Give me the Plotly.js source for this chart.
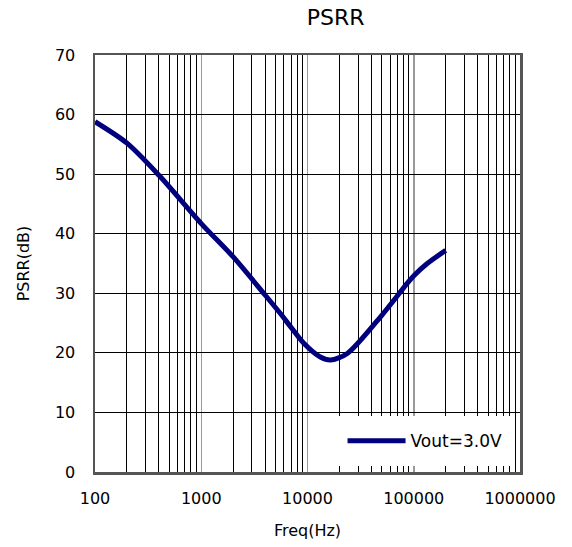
<!DOCTYPE html>
<html><head><meta charset="utf-8">
<script src="https://cdn.plot.ly/plotly-3.0.1.min.js"></script>
<style>html,body{margin:0;padding:0;background:#fff}#chart{width:572px;height:547px}</style>
</head><body><div id="chart"></div>
<script>
const freqHz = [100, 200, 400, 1000, 2000, 3870, 5560, 6920, 9230, 13200, 16500, 23700, 48900, 87100, 100700, 134000, 200000];
const psrrDb = [58.8, 55.2, 49.8, 41.7, 36.1, 30.0, 26.6, 24.4, 21.6, 19.3, 18.8, 19.9, 26.1, 31.7, 33.0, 35.0, 37.2];
const seriesName = 'Vout=3.0V';
const xTickVals = [100, 1000, 10000, 100000, 1000000];
const xTickText = ['100', '1000', '10000', '100000', '1000000'];
const yTickVals = [0, 10, 20, 30, 40, 50, 60, 70];

const font = "'DejaVu Sans', sans-serif";
Plotly.newPlot('chart', [{
  x: freqHz, y: psrrDb, name: seriesName, type: 'scatter', mode: 'lines',
  line: {color: '#00007f', width: 5, shape: 'spline', smoothing: 0.8}
}], {
  width: 572, height: 547,
  margin: {l: 95, r: 52, t: 55, b: 75},
  paper_bgcolor: '#fff', plot_bgcolor: '#fff',
  title: {text: 'PSRR', x: 0.587, xanchor: 'center', y: 0.968, yanchor: 'middle', font: {family: font, size: 22, color: '#000'}},
  showlegend: true,
  legend: {x: 0.566, xanchor: 'left', y: 0.074, yanchor: 'middle', bgcolor: '#fff', bordercolor: '#fff', borderwidth: 7,
    itemwidth: 58, font: {family: font, size: 17, color: '#000'}},
  xaxis: {
    type: 'log', range: [2, 6], tickmode: 'array', tickvals: xTickVals, ticktext: xTickText,
    showgrid: true, gridcolor: '#999', gridwidth: 1.5,
    minor: {dtick: 'D1', showgrid: true, gridcolor: '#000', gridwidth: 1, ticklen: 0},
    showline: true, linecolor: '#555', linewidth: 2.5, mirror: true, ticks: '', zeroline: false,
    ticklabelstandoff: 10,
    tickfont: {family: font, size: 16, color: '#000'},
    title: {text: 'Freq(Hz)', font: {family: font, size: 16, color: '#000'}, standoff: 18}
  },
  yaxis: {
    range: [0, 70], tickmode: 'array', tickvals: yTickVals,
    showgrid: true, gridcolor: '#000', gridwidth: 1,
    showline: true, linecolor: '#555', linewidth: 2.5, mirror: true, ticks: '', zeroline: false,
    ticklabelstandoff: 14,
    tickfont: {family: font, size: 16, color: '#000'},
    title: {text: 'PSRR(dB)', font: {family: font, size: 16, color: '#000'}, standoff: 22}
  }
}, {displayModeBar: false, staticPlot: true});
</script></body></html>
